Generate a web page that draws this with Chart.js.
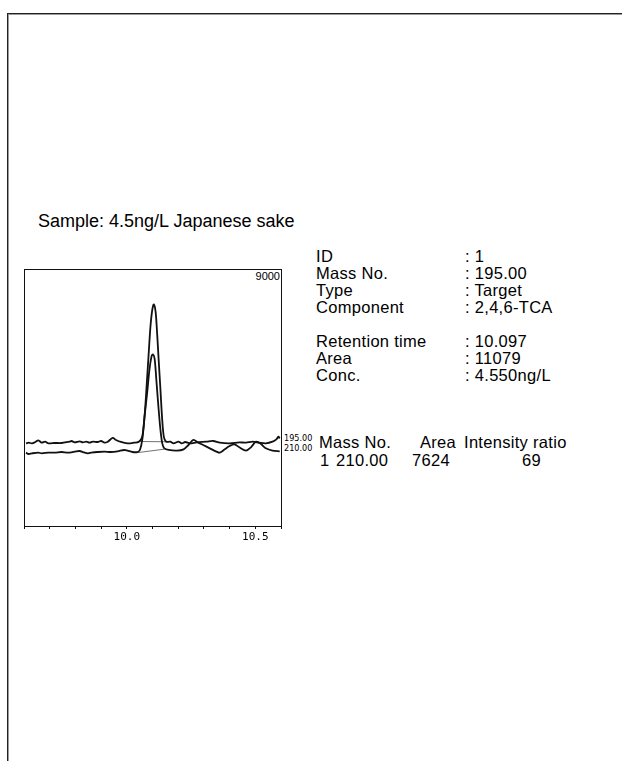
<!DOCTYPE html>
<html>
<head>
<meta charset="utf-8">
<script src="https://cdn.jsdelivr.net/npm/chart.js@4.4.1/dist/chart.umd.min.js"></script>
<style>
  html,body{margin:0;padding:0;background:#fff;}
  body{width:622px;height:761px;position:relative;overflow:hidden;font-family:"Liberation Sans",Arial,sans-serif;color:#000;}
  .frame{position:absolute;left:7px;top:13px;width:720px;height:820px;border-top:1px solid #222;border-left:1px solid #222;box-shadow:inset 1px 1px 0 #999;}
  .t{position:absolute;white-space:pre;line-height:17px;font-size:16.5px;letter-spacing:0.3px;}
  .big{font-size:18px;letter-spacing:0;}
  .mono{position:absolute;white-space:pre;font-family:"DejaVu Sans Condensed","DejaVu Sans",sans-serif;font-size:9px;line-height:10px;}
  .ymax{position:absolute;white-space:pre;font-family:"Liberation Sans",Arial,sans-serif;font-size:11px;line-height:11px;text-align:right;}
  canvas{position:absolute;left:0;top:250px;}
</style>
</head>
<body>
<div class="frame"></div>
<div class="t big" id="sample" style="left:38px;top:213px;"></div>
<div id="info"></div>
<div id="labels"></div>
<canvas id="c" width="300" height="300"></canvas>
<script>
// ---------------- data ----------------
const sampleTitle = "Sample: 4.5ng/L Japanese sake";
const infoKeys = ["ID", "Mass No.", "Type", "Component", "", "Retention time", "Area", "Conc."];
const infoValues = [": 1", ": 195.00", ": Target", ": 2,4,6-TCA", "", ": 10.097", ": 11079", ": 4.550ng/L"];
const tableHeader = ["Mass No.", "Area", "Intensity ratio"];
const tableRow = ["1", "210.00", "7624", "69"];

const xTickLabels = ["10.0", "10.5"];
const yMaxLabel = "9000";
const traceNames = ["195.00", "210.00"];

const times195 = [9.608,9.618,9.631,9.644,9.656,9.669,9.682,9.695,9.720,9.746,9.778,9.785,9.797,9.817,9.829,9.842,9.855,9.868,9.887,9.900,9.913,9.926,9.945,9.958,9.977,10.003,10.028,10.047,10.060,10.069,10.077,10.086,10.092,10.099,10.105,10.112,10.118,10.124,10.131,10.137,10.144,10.153,10.169,10.182,10.201,10.214,10.227,10.246,10.272,10.310,10.336,10.362,10.400,10.438,10.464,10.490,10.515,10.541,10.567,10.582,10.590,10.595];
const int195 = [2895,2918,2895,2942,3000,2918,2953,2895,2907,2907,2953,2977,2930,2965,2930,2953,2918,2953,2942,2977,2918,2953,3082,3012,2942,2895,2918,2953,3128,3829,4879,6164,6981,7564,7763,7506,6747,5813,4763,3829,3128,2953,2953,2895,2953,2895,2942,2895,2930,2953,2977,2918,2895,2930,2918,2953,2918,2895,2953,3035,3128,3070];

const times210 = [9.608,9.618,9.631,9.656,9.669,9.695,9.720,9.746,9.772,9.797,9.817,9.829,9.849,9.862,9.887,9.913,9.938,9.964,9.990,10.003,10.022,10.041,10.051,10.060,10.069,10.079,10.088,10.096,10.101,10.108,10.115,10.123,10.131,10.138,10.146,10.163,10.195,10.221,10.240,10.259,10.278,10.297,10.323,10.349,10.362,10.381,10.400,10.419,10.438,10.464,10.483,10.503,10.522,10.541,10.567,10.595];
const int210 = [2568,2521,2545,2568,2545,2568,2568,2591,2568,2603,2627,2591,2545,2568,2591,2603,2591,2615,2662,2638,2591,2591,2662,3012,3829,4646,5463,5930,6012,5872,5113,4179,3362,2895,2720,2662,2638,2685,2837,3012,2918,2837,2720,2603,2568,2685,2802,2860,2755,2638,2755,2953,2872,2720,2638,2615];

// integration baselines (start/end of peak)
const base195T = [10.041, 10.150];
const base195I = [2960, 2950];
const base210T = [10.041, 10.146];
const base210I = [2568, 2690];

// ---------------- text ----------------
document.getElementById('sample').textContent = sampleTitle;
const info = document.getElementById('info');
const infoTop = 248, lh = 17;
const addText = (txt, x, y, cls) => {
  const d = document.createElement('div');
  d.className = cls || 't'; d.style.left = x + 'px'; d.style.top = y + 'px';
  d.textContent = txt; info.appendChild(d); return d;
};
infoKeys.forEach((k, i) => {
  if (!k) return;
  addText(k, 316, infoTop + i * lh);
  addText(infoValues[i], 465, infoTop + i * lh);
});
const hdrX = [319, 420, 464];
tableHeader.forEach((h, i) => addText(h, hdrX[i], 434));
const rowX = [320, 336, 412, 522];
tableRow.forEach((h, i) => addText(h, rowX[i], 452));

// ---------------- chart ----------------
const toXY = (ts, vs) => ts.map((t, i) => ({x: t, y: vs[i]}));
const boxPlugin = {
  id: 'box',
  afterDraw(chart) {
    const {ctx, chartArea: a} = chart;
    ctx.save();
    ctx.strokeStyle = '#111';
    ctx.lineWidth = 1;
    ctx.strokeRect(Math.round(a.left) + 0.5, Math.round(a.top) + 0.5, Math.round(a.right - a.left), Math.round(a.bottom - a.top));
    ctx.restore();
    const cv = chart.canvas;
    const offX = cv.offsetLeft, offY = cv.offsetTop;
    const lab = document.getElementById('labels');
    lab.innerHTML = '';
    const ys = chart.scales.y;
    const m = document.createElement('div');
    m.className = 'ymax';
    m.style.left = (offX + a.right - 40) + 'px';
    m.style.width = '39px';
    m.style.top = (offY + a.top + 2) + 'px';
    m.textContent = yMaxLabel; lab.appendChild(m);
    const ends = [int195[int195.length - 1], int210[int210.length - 1] + 110];
    traceNames.forEach((n, i) => {
      const d = document.createElement('div');
      d.className = 'mono';
      d.style.left = (offX + a.right + 3) + 'px';
      d.style.top = (offY + ys.getPixelForValue(ends[i]) - 5) + 'px';
      d.textContent = n; lab.appendChild(d);
    });
  }
};

new Chart(document.getElementById('c'), {
  type: 'line',
  data: {
    datasets: [
      {data: toXY(times195, int195), borderColor: '#111', borderWidth: 1.8, pointRadius: 0, tension: 0.3, fill: false},
      {data: toXY(times210, int210), borderColor: '#111', borderWidth: 1.8, pointRadius: 0, tension: 0.3, fill: false},
      {data: toXY(base195T, base195I), borderColor: '#333', borderWidth: 0.7, pointRadius: 0, fill: false},
      {data: toXY(base210T, base210I), borderColor: '#333', borderWidth: 0.7, pointRadius: 0, fill: false}
    ]
  },
  options: {
    responsive: false,
    animation: false,
    devicePixelRatio: 1,
    layout: {padding: {left: 24, top: 19, right: 19, bottom: 0}},
    plugins: {legend: {display: false}, tooltip: {enabled: false}},
    scales: {
      x: {
        type: 'linear', min: 9.6, max: 10.6,
        afterFit(scale) { scale.height = 24; },
        border: {display: true, color: '#111'},
        grid: {drawOnChartArea: false, drawTicks: true, tickLength: 3, color: '#111'},
        ticks: {
          stepSize: 0.1, autoSkip: false, maxRotation: 0, padding: 2, color: '#000',
          font: {family: '"DejaVu Sans Mono", monospace', size: 11},
          callback(v) {
            const s = Number(v).toFixed(1);
            return xTickLabels.includes(s) ? s : '';
          }
        }
      },
      y: {type: 'linear', display: false, min: 0, max: 9000}
    }
  },
  plugins: [boxPlugin]
});
</script>
</body>
</html>
